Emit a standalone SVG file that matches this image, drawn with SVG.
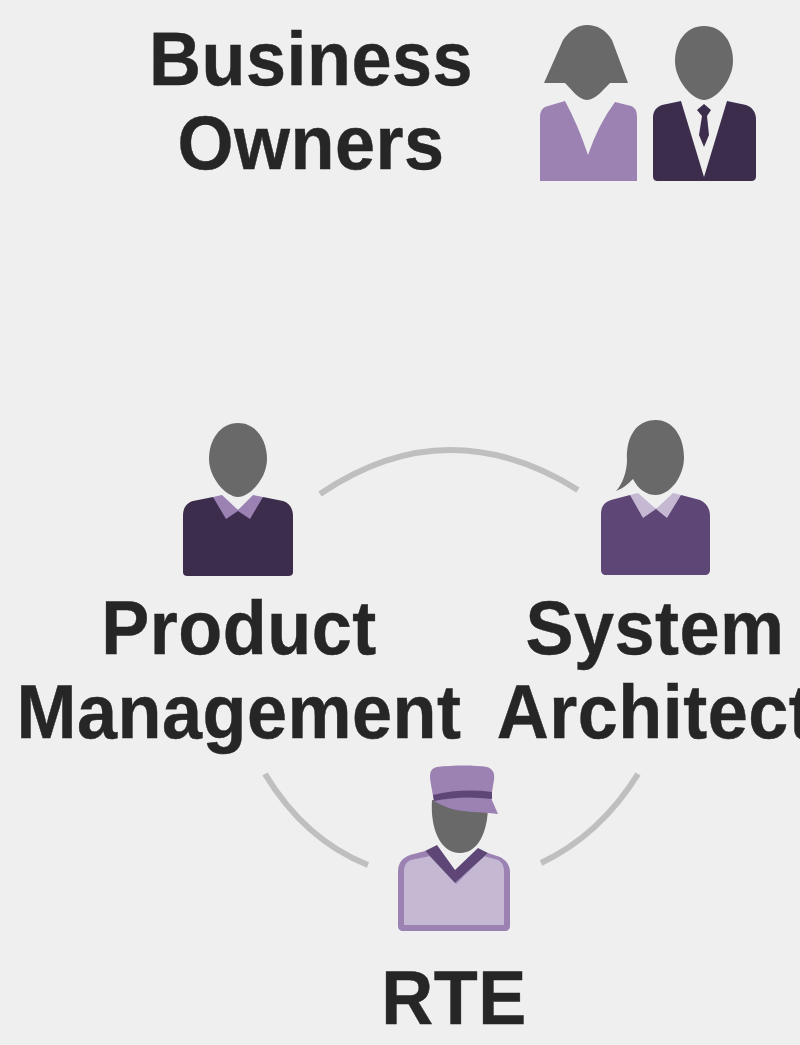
<svg xmlns="http://www.w3.org/2000/svg" width="800" height="1045" viewBox="0 0 800 1045">
<style>
.t{font-family:"Liberation Sans",Arial,sans-serif;font-weight:700;font-size:72px;letter-spacing:.5px;fill:#262626;stroke:#262626;stroke-width:.4px;text-anchor:middle}
.h{fill:#696969}
.c{fill:none;stroke:#bfbfbf;stroke-width:6}
.d{fill:#3d2d4d}.m{fill:#5e4676}.p{fill:#9b82b3}.l{fill:#c5b8d3}
</style>
<rect width="800" height="1045" fill="#efefef"/>
<g id="connectors">
<path class="c" d="M320 494Q385 450 450 450Q515 450 578 490"/>
<path class="c" d="M265 774Q305 840 368 865"/>
<path class="c" d="M638 774Q600 835 541 863"/>
</g>
<g id="business-owners">
<text class="t" transform="translate(311 85.300) scale(1 1.05)">Business</text>
<text class="t" transform="translate(311 169) scale(1 1.05)">Owners</text>
<path class="h" d="M544 83L563 40C570 30 578 25 587 25C597 25 606 30 612 40L628 83H610C603 90 595 100 587 100C579 100 572 90 565 83Z"/>
<path class="p" d="M540 181V118C540 110 543 107 548 106L565 101Q578 125 588 155Q598 125 615 102L631 106C636 108 637 112 637 118V181Z"/>
<path class="h" d="M704 26C722 26 733 42 733 61C733 80 716 100 704 100C692 100 675 80 675 61C675 42 686 26 704 26Z"/>
<path class="d" d="M653 118C653 110 657 107 662 105L681 101L704 177L727 101L746 105C752 107 756 112 756 119V176C756 180 754 181 751 181H658C655 181 653 180 653 176Z"/>
<path class="d" d="M704 104L711 110L707 116L709 135L704 147L699 135L702 116L697 110Z"/>
</g>
<g id="product-management">
<path class="h" d="M238 423C256 423 267 440 267 459C267 478 250 497 238 497C226 497 209 478 209 459C209 440 220 423 238 423Z"/>
<path class="d" d="M183 516C183 507 187 503 193 501L213 497L238 510L263 497L283 501C289 503 293 508 293 516V572C293 575 291 576 288 576H188C185 576 183 575 183 572Z"/>
<path class="p" d="M213 497L222 495L238 510L253 495L263 497L250 519L238 511L226 519Z"/>
<text class="t" transform="translate(239 654) scale(1 1.05)">Product</text>
<text class="t" transform="translate(239 738.300) scale(1 1.05)">Management</text>
</g>
<g id="system-architect">
<path class="h" d="M656 420C673 420 684 437 684 457C684 478 669 495 656 495C646 495 638 489 633 479C628 484 622 489 616 491C622 485 627 472 627 460C626 437 636 420 656 420Z"/>
<path class="m" d="M601 514C601 506 605 502 611 500L630 495L656 509L681 495L700 500C706 503 710 508 710 516V570C710 573 708 575 705 575H606C603 575 601 573 601 570Z"/>
<path class="l" d="M630 495L638 493L656 509L673 493L681 495L667 518L656 509L643 518Z"/>
<text class="t" transform="translate(655 654) scale(1 1.05)">System</text>
<text class="t" transform="translate(655 738.300) scale(1 1.05)">Architect</text>
</g>
<g id="rte">
<path class="h" d="M432 800C430 830 441 853 460 853C478 853 488 832 488 805Z"/>
<path class="p" d="M398 872C398 863 402 858 410 855L425 851L455 883L488 853L500 857C506 860 510 865 510 872V926C510 929 508 931 505 931H403C400 931 398 929 398 926Z"/>
<path class="l" d="M404 925V872C404 866 406 862 411 860L430 856L456 884L484 856L498 860C502 862 504 866 504 872V925Z"/>
<path class="m" d="M425 851L437 845L455 870L478 848L488 853L455 883Z"/>
<path class="p" d="M437 767C452 765 475 765 487 767C493 769 495 773 494 780L491 798L498 814C480 812 462 812 452 809C444 806 438 804 434 801C432 790 430 780 430 777C430 771 432 768 437 767Z"/>
<path class="m" d="M433 795Q462 788 492 792L492 799Q462 795 434 801Z"/>
<text class="t" transform="translate(454 1024) scale(1 1.05)">RTE</text>
</g>
</svg>
